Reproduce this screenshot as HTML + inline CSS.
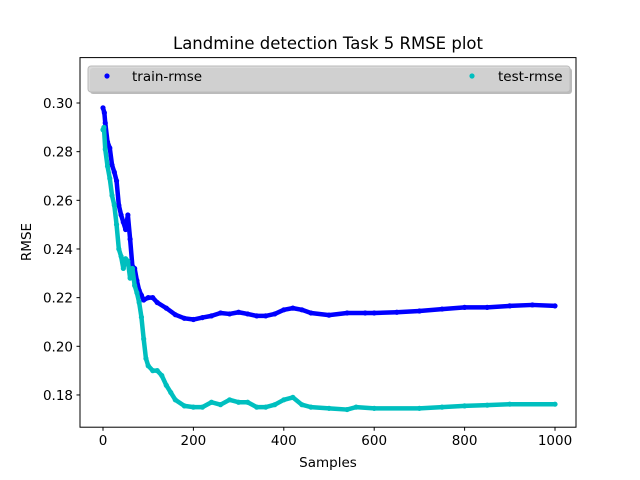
<!DOCTYPE html>
<html><head><meta charset="utf-8"><style>
body{margin:0;background:#fff}
svg{display:block;font-family:"DejaVu Sans","Liberation Sans",sans-serif}
</style></head><body>
<svg id="chart" width="640" height="480">
<rect width="640" height="480" fill="#fff"/>
<text x="328" y="49" font-size="16.5" text-anchor="middle">Landmine detection Task 5 RMSE plot</text>
<g id="marks"></g>
<g id="axes"></g>
<rect x="80" y="57.6" width="496" height="369.6" fill="none" stroke="#000" stroke-width="1"/>
<g>
<rect x="90" y="68" width="482" height="26" rx="3" fill="#777" opacity="0.5"/>
<rect x="88" y="66" width="482" height="26" rx="3" fill="#d3d3d3" fill-opacity="0.85" stroke="#bbb" stroke-width="1"/>
<circle cx="107" cy="76" r="2.6" fill="#0000ff"/>
<text x="132" y="81" font-size="13.5">train-rmse</text>
<circle cx="472" cy="76" r="2.6" fill="#00bfbf"/>
<text x="498" y="81" font-size="13.5">test-rmse</text>
</g>
<text x="328" y="467" font-size="13.5" text-anchor="middle">Samples</text>
<text x="31" y="242" font-size="13.5" text-anchor="middle" transform="rotate(-90 31 242)">RMSE</text>
</svg>
<script>
const trainX=[0,3,5,10,15,20,25,30,35,40,45,50,55,60,65,70,75,80,85,90,100,110,120,140,160,180,200,220,240,260,280,300,320,340,360,380,400,420,440,460,500,540,580,600,650,700,750,800,850,900,950,1000];
const trainY=[0.298,0.296,0.2918,0.284,0.2815,0.2745,0.2716,0.268,0.258,0.254,0.251,0.248,0.254,0.244,0.233,0.232,0.227,0.223,0.221,0.219,0.220,0.220,0.218,0.2157,0.213,0.2115,0.211,0.2118,0.2125,0.2137,0.2133,0.214,0.2133,0.2125,0.2125,0.2133,0.215,0.2157,0.215,0.2137,0.2128,0.2137,0.2137,0.2137,0.214,0.2145,0.2153,0.216,0.216,0.2166,0.217,0.2166];
const testX=[0,2,5,10,15,20,25,30,35,40,45,50,55,60,65,70,75,80,85,90,95,100,110,120,130,140,150,160,180,200,220,240,260,280,300,320,340,360,380,400,420,440,460,500,540,560,600,700,750,800,850,900,1000];
const testY=[0.289,0.29,0.281,0.274,0.269,0.262,0.258,0.25,0.24,0.237,0.232,0.236,0.235,0.228,0.232,0.225,0.222,0.218,0.212,0.203,0.195,0.192,0.190,0.190,0.188,0.184,0.181,0.178,0.1755,0.175,0.175,0.177,0.176,0.178,0.177,0.177,0.175,0.175,0.176,0.178,0.179,0.176,0.175,0.1745,0.174,0.175,0.1745,0.1745,0.175,0.1755,0.1758,0.1762,0.1762];
const xTicks=[0,200,400,600,800,1000];
const yTicks=[0.18,0.20,0.22,0.24,0.26,0.28,0.30];
const NS='http://www.w3.org/2000/svg';
function xs(s){return 103+s*0.452;}
function ys(v){return 103+(0.30-v)*2433;}
const marks=document.getElementById('marks');
const axes=document.getElementById('axes');
function mk(t,a){const e=document.createElementNS(NS,t);for(const k in a)e.setAttribute(k,a[k]);return e;}
function series(X,Y,color,name){
  const g=mk('g',{});
  
  
  const pl=mk('polyline',{points:X.map((s,i)=>xs(s)+','+ys(Y[i])).join(' '),fill:'none',stroke:color,'stroke-width':4.5,'stroke-linecap':'round','stroke-linejoin':'round'});
  
  
  g.appendChild(pl);
  X.forEach((s,i)=>{
    const c=mk('circle',{cx:xs(s),cy:ys(Y[i]),r:2.6,fill:color});
    
    
    g.appendChild(c);
  });
  marks.appendChild(g);
}
series(trainX,trainY,'#0000ff','train-rmse');
series(testX,testY,'#00bfbf','test-rmse');
xTicks.forEach(t=>{
  const x=xs(t);
  const l=mk('line',{x1:x,x2:x,y1:427.2,y2:430.7,stroke:'#000'});
  
  
  axes.appendChild(l);
  const tx=mk('text',{x:x,y:445,'font-size':13.5,'text-anchor':'middle'});
  
  
  tx.textContent=t;axes.appendChild(tx);
});
yTicks.forEach(t=>{
  const y=ys(t);
  const l=mk('line',{x1:76.5,x2:80,y1:y,y2:y,stroke:'#000'});
  
  
  axes.appendChild(l);
  const tx=mk('text',{x:73,y:y+5,'font-size':13.5,'text-anchor':'end'});
  
  
  tx.textContent=t.toFixed(2);axes.appendChild(tx);
});
</script>
</body></html>
